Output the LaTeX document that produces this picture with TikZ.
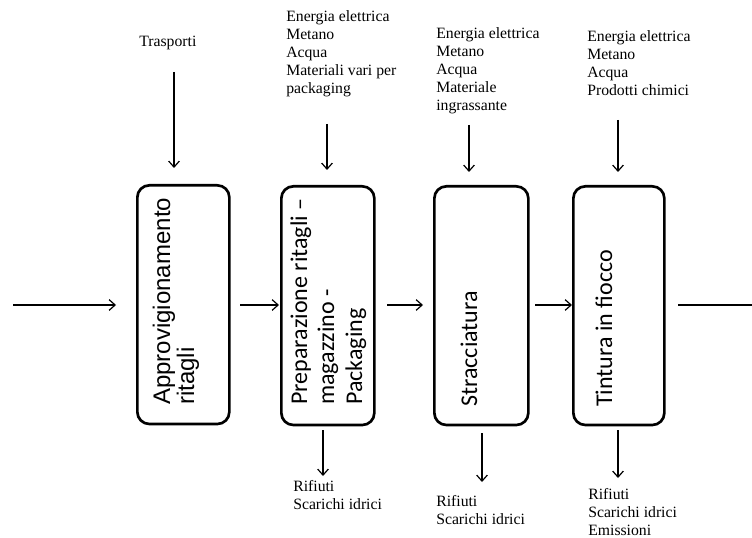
\documentclass[tikz,border=0pt]{standalone}
\usepackage{fontspec}
\setmainfont{Liberation Serif}
\newfontfamily\arialf{Liberation Sans}
\newfontfamily\calf{Carlito}
\usetikzlibrary{arrows.meta}
\begin{document}
\begin{tikzpicture}[x=0.75pt,y=-0.75pt,
 proc/.style={draw,line width=2pt,rounded corners=9pt,anchor=north west,inner sep=0pt,minimum height=179pt},
 flow/.style={line width=0.9pt,-{Straight Barb[length=4.5pt,width=8pt]}},
 plain/.style={line width=0.9pt},
 lbl/.style={font=\fontsize{11.8}{13.5}\selectfont,align=left,inner sep=0pt,anchor=base west},
 rotA/.style={rotate=90,inner sep=0pt,anchor=base west,font=\arialf\fontsize{18}{21}\selectfont},
 rotC/.style={rotate=90,inner sep=0pt,anchor=base west,font=\calf\fontsize{18}{21}\selectfont}
]
\useasboundingbox (0,0) rectangle (752,538);
% boxes
\node[proc,minimum width=69pt] (b1) at (136,184) {};
\node[proc,minimum width=69.75pt] (b2) at (280,185) {};
\node[proc,minimum width=70.5pt] (b3) at (433,185) {};
\node[proc,minimum width=68.25pt] (b4) at (572,185) {};
% box texts
\node[rotA] (b1a) at (170,405) {Approvigionamento};
\node[rotA] (b1b) at (194,405) {ritagli};
\node[rotC] (b2a) at (307,405) {Preparazione ritagli –};
\node[rotC] (b2b) at (334,405) {magazzino -};
\node[rotC] (b2c) at (362,405) {Packaging};
\node[rotC] (b3a) at (477,407) {Stracciatura};
\node[rotC] (b4a) at (612,407) {Tintura in fiocco};
% top labels (anchor = baseline of last line)
\node[lbl] (t1) at (139,47) {Trasporti};
\node[lbl] (t2) at (286,94) {Energia elettrica\\Metano\\Acqua\\Materiali vari per\\packaging};
\node[lbl] (t3) at (436,111) {Energia elettrica\\Metano\\Acqua\\Materiale\\ingrassante};
\node[lbl] (t4) at (587,96) {Energia elettrica\\Metano\\Acqua\\Prodotti chimici};
% bottom labels
\node[lbl] (o2) at (293,509) {Rifiuti\\Scarichi idrici};
\node[lbl] (o3) at (436,524) {Rifiuti\\Scarichi idrici};
\node[lbl] (o4) at (588,535) {Rifiuti\\Scarichi idrici\\Emissioni};
% coordinates for arrows
\coordinate (a1s) at (174,72);  \coordinate (a1e) at (174,168);
\coordinate (a2s) at (327,124); \coordinate (a2e) at (327,170);
\coordinate (a3s) at (469,125); \coordinate (a3e) at (469,172);
\coordinate (a4s) at (618,120); \coordinate (a4e) at (618,172);
\coordinate (d2s) at (323,430); \coordinate (d2e) at (323,476);
\coordinate (d3s) at (482,433); \coordinate (d3e) at (482,482);
\coordinate (d4s) at (618,430); \coordinate (d4e) at (618,478);
\coordinate (h0s) at (13,305);  \coordinate (h0e) at (116,305);
\coordinate (h1s) at (240,305); \coordinate (h1e) at (279,305);
\coordinate (h2s) at (387,305); \coordinate (h2e) at (423,305);
\coordinate (h3s) at (535,305); \coordinate (h3e) at (572,305);
\coordinate (h4s) at (678,305); \coordinate (h4e) at (752,305);
\draw[flow] (a1s) -- (a1e);
\draw[flow] (a2s) -- (a2e);
\draw[flow] (a3s) -- (a3e);
\draw[flow] (a4s) -- (a4e);
\draw[flow] (d2s) -- (d2e);
\draw[flow] (d3s) -- (d3e);
\draw[flow] (d4s) -- (d4e);
\draw[flow] (h0s) -- (h0e);
\draw[flow] (h1s) -- (h1e);
\draw[flow] (h2s) -- (h2e);
\draw[flow] (h3s) -- (h3e);
\draw[plain] (h4s) -- (h4e);
\end{tikzpicture}
\end{document}
